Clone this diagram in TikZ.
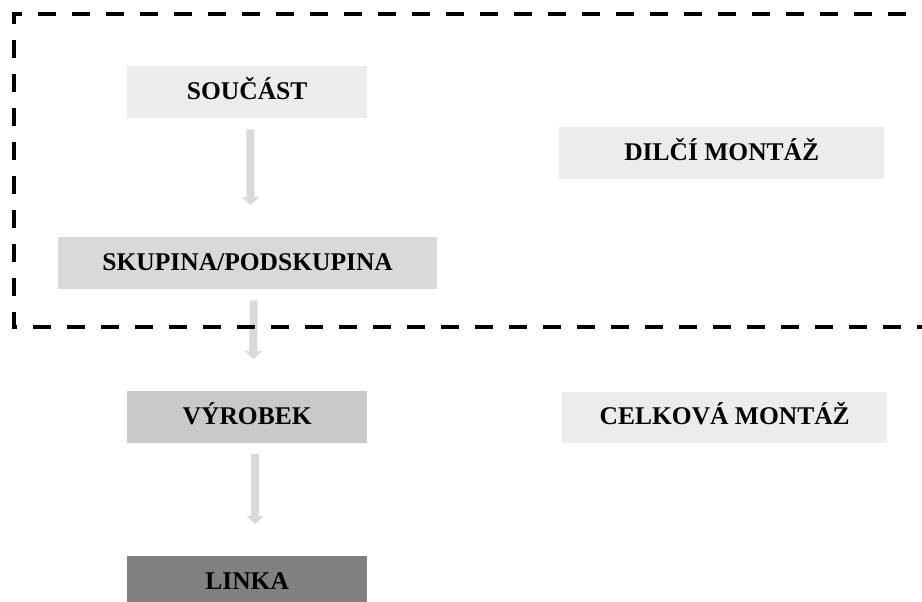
\documentclass[tikz,border=0pt]{standalone}
\usepackage{fontspec}
\setmainfont{Liberation Serif}
\usetikzlibrary{arrows.meta}
\definecolor{lightbox}{HTML}{ECECEC}
\definecolor{midbox}{HTML}{D9D9D9}
\definecolor{darkbox}{HTML}{C9C9C9}
\definecolor{linkbox}{HTML}{808080}
\definecolor{arrowgray}{HTML}{D9D9D9}
\tikzset{
  box/.style={rectangle, inner sep=0pt, anchor=north west, text height=17pt, text depth=3pt,
    font=\fontsize{25.5}{28}\selectfont\bfseries, text=black},
  flow/.style={draw=arrowgray, line width=8pt, -{Triangle[width=17pt,length=8pt]}, shorten <=11pt, shorten >=32pt},
  frame/.style={draw=black, line width=4pt, dash pattern=on 18pt off 16pt}
}
\begin{document}
\begin{tikzpicture}[x=1pt,y=1pt]
\useasboundingbox (0,0) rectangle (922,602);
% boxes (y measured from top: 602 - y)
\node[box, fill=lightbox, minimum width=240pt, minimum height=52pt] (soucast) at (127,536) {SOUČÁST};
\node[box, fill=midbox, minimum width=379pt, minimum height=52pt] (skupina) at (58,365) {SKUPINA/PODSKUPINA};
\node[box, fill=darkbox, minimum width=240pt, minimum height=52pt] (vyrobek) at (127,211) {VÝROBEK};
\node[box, fill=linkbox, minimum width=240pt, minimum height=52pt] (linka) at (127,46) {LINKA};
\node[box, fill=lightbox, minimum width=325pt, minimum height=52pt] (dilci) at (559,475) {DILČÍ MONTÁŽ};
\node[box, fill=lightbox, minimum width=325pt, minimum height=51pt] (celkova) at (562,210) {CELKOVÁ MONTÁŽ};
% arrows
\draw[flow] ([xshift=3pt]soucast.south) -- ([xshift=3pt]skupina.north);
\draw[flow] ([xshift=6pt]skupina.south) -- ([xshift=6pt]vyrobek.north);
\draw[flow] ([xshift=8pt]vyrobek.south) -- ([xshift=8pt]linka.north);
% dashed frame, open to the right
\coordinate (ftr) at (940,588);
\coordinate (ftl) at (14,588);
\coordinate (fbl) at (14,275);
\coordinate (fbr) at (940,275);
\draw[frame] (ftr) -- (ftl) -- (fbl) -- (fbr);
\end{tikzpicture}
\end{document}
